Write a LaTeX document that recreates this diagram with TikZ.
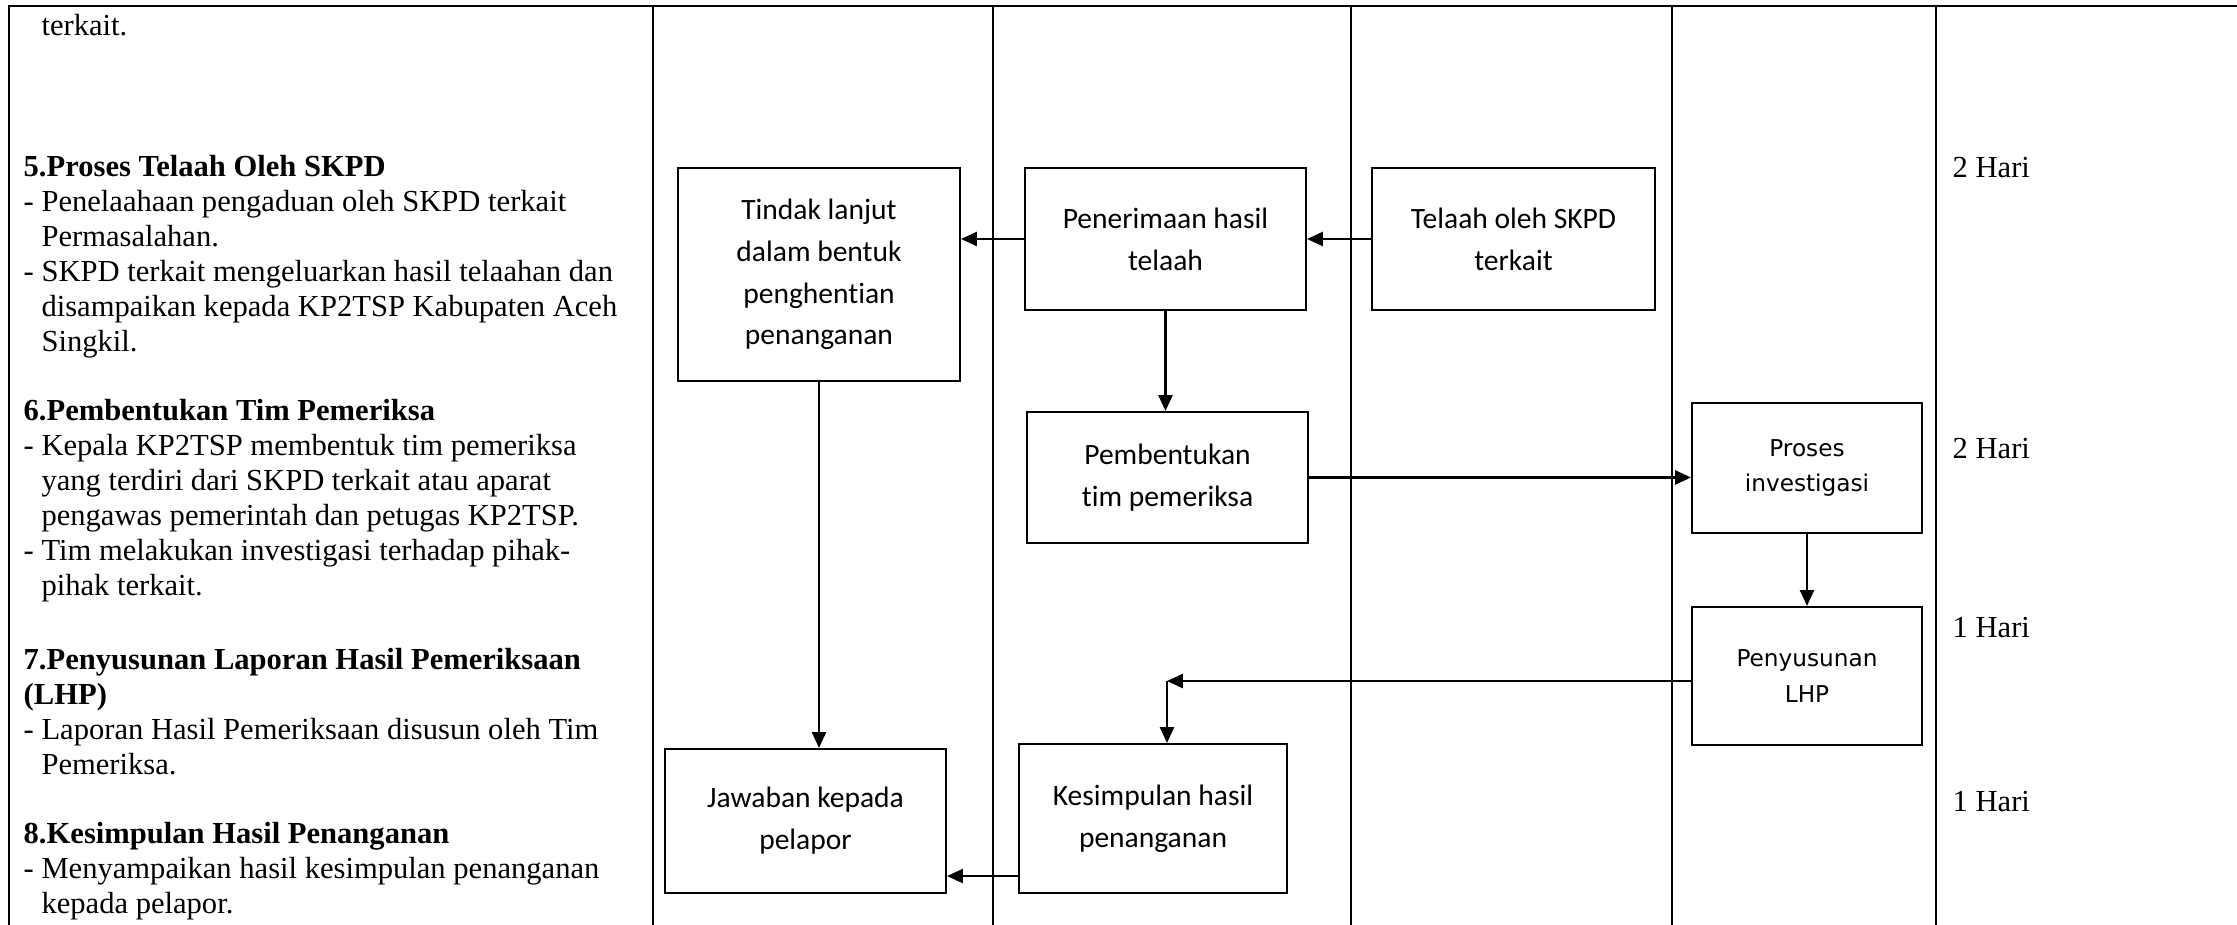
\documentclass[tikz,border=0pt]{standalone}
\usepackage{fontspec}
\setmainfont{Liberation Serif}
\newfontfamily\kotakfont[Ligatures=NoCommon]{Carlito}
\newfontfamily\lebarfont{DejaVu Sans}
\usetikzlibrary{arrows.meta}
\tikzset{
garis/.style={line width=0.65pt},
langkah/.style={draw, rectangle, line width=0.6pt, align=center, inner sep=0pt,
  font=\kotakfont\fontsize{8.4}{11.9}\selectfont},
langkahlebar/.style={langkah, font=\lebarfont\fontsize{6.6}{10}\selectfont},
panah/.style={line width=0.6pt, -{Triangle[length=4.5pt,width=4pt]}},
ket/.style={anchor=base west, align=left, inner sep=0pt,
  font=\fontsize{8.7}{10}\selectfont},
hari/.style={anchor=base west, inner sep=0pt, font=\fontsize{8.7}{10}\selectfont}
}

\begin{document}
\begin{tikzpicture}
\useasboundingbox (0,0) rectangle (22.37,-9.25);

% tabel
\draw[garis] (0.09,-9.25) -- (0.09,-0.06) -- (22.37,-0.06);
\draw[garis] (6.53,-0.06) -- (6.53,-9.25);
\draw[garis] (9.93,-0.06) -- (9.93,-9.25);
\draw[garis] (13.51,-0.06) -- (13.51,-9.25);
\draw[garis] (16.72,-0.06) -- (16.72,-9.25);
\draw[garis] (19.36,-0.06) -- (19.36,-9.25);

% uraian kegiatan (base = baris terakhir)
\node[ket] (t0) at (0.23,-0.36) {\hphantom{- }terkait.};
\node[ket] (t5) at (0.23,-3.52) {\textbf{5.Proses Telaah Oleh SKPD}\\
  - Penelaahaan pengaduan oleh SKPD terkait\\
  \hphantom{- }Permasalahan.\\
  - SKPD terkait mengeluarkan hasil telaahan dan\\
  \hphantom{- }disampaikan kepada KP2TSP Kabupaten Aceh\\
  \hphantom{- }Singkil.};
\node[ket] (t6) at (0.23,-5.96) {\textbf{6.Pembentukan Tim Pemeriksa}\\
  - Kepala KP2TSP membentuk tim pemeriksa\\
  \hphantom{- }yang terdiri dari SKPD terkait atau aparat\\
  \hphantom{- }pengawas pemerintah dan petugas KP2TSP.\\
  - Tim melakukan investigasi terhadap pihak-\\
  \hphantom{- }pihak terkait.};
\node[ket] (t7) at (0.23,-7.75) {\textbf{7.Penyusunan Laporan Hasil Pemeriksaan}\\
  \textbf{(LHP)}\\
  - Laporan Hasil Pemeriksaan disusun oleh Tim\\
  \hphantom{- }Pemeriksa.};
\node[ket] (t8) at (0.23,-9.14) {\textbf{8.Kesimpulan Hasil Penanganan}\\
  - Menyampaikan hasil kesimpulan penanganan\\
  \hphantom{- }kepada pelapor.};

% langkah
\node[langkah, minimum width=2.82cm, minimum height=2.13cm] (tindak) at (8.19,-2.745) {Tindak lanjut\\dalam bentuk\\penghentian\\penanganan};
\node[langkah, minimum width=2.81cm, minimum height=1.42cm] (terima) at (11.655,-2.39) {Penerimaan hasil\\telaah};
\node[langkah, minimum width=2.83cm, minimum height=1.42cm] (telaah) at (15.135,-2.39) {Telaah oleh SKPD\\terkait};
\node[langkah, minimum width=2.81cm, minimum height=1.31cm] (bentuk) at (11.675,-4.775) {Pembentukan\\tim pemeriksa};
\node[langkahlebar, minimum width=2.30cm, minimum height=1.30cm] (proses) at (18.07,-4.68) {Proses\\investigasi};
\node[langkahlebar, minimum width=2.30cm, minimum height=1.38cm] (lhp) at (18.07,-6.76) {Penyusunan\\LHP};
\node[langkah, minimum width=2.81cm, minimum height=1.44cm] (jawab) at (8.055,-8.21) {Jawaban kepada\\pelapor};
\node[langkah, minimum width=2.68cm, minimum height=1.49cm] (simpul) at (11.53,-8.185) {Kesimpulan hasil\\penanganan};

% alur
\draw[panah] (telaah.west) -- (terima.east);
\draw[panah] (terima.west) -- (terima.west -| tindak.east);
\draw[panah] (terima.south) -- (terima.south |- bentuk.north);
\draw[panah] (bentuk.east) -- (bentuk.east -| proses.west);
\draw[panah] (proses.south) -- (lhp.north);
\coordinate (belok) at (11.67,-6.81);
\draw[panah] (lhp.west |- belok) -- (belok);
\draw[panah] (belok) -- (belok |- simpul.north);
\draw[panah] (tindak.south) -- (tindak.south |- jawab.north);
\draw[panah] ([yshift=0.18cm]simpul.south west) -- ([yshift=0.18cm]simpul.south west -| jawab.east);

% waktu
\node[hari] (h1) at (19.52,-1.78) {2 Hari};
\node[hari] (h2) at (19.52,-4.59) {2 Hari};
\node[hari] (h3) at (19.52,-6.38) {1 Hari};
\node[hari] (h4) at (19.52,-8.12) {1 Hari};
\end{tikzpicture}
\end{document}
